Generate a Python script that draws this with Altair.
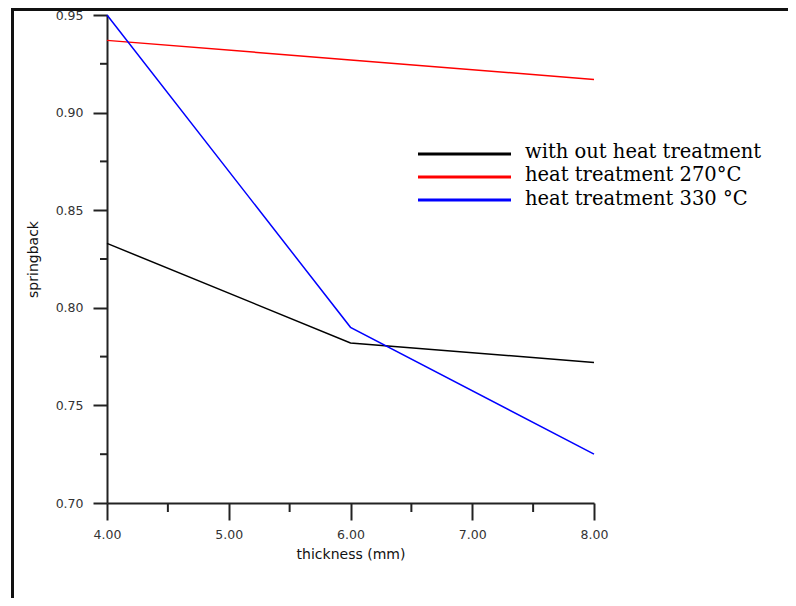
import altair as alt
import pandas as pd

# ---- data ----
thickness = [4.0, 6.0, 8.0]
series_names = ["with out heat treatment", "heat treatment 270°C", "heat treatment 330 °C"]
without_ht = [0.833, 0.782, 0.772]
ht_270 = [0.937, 0.927, 0.917]
ht_330 = [0.950, 0.790, 0.725]
series_colors = ["#000000", "#ff0000", "#0000ff"]

x_ticks = [4, 5, 6, 7, 8]
y_ticks = [0.70, 0.75, 0.80, 0.85, 0.90, 0.95]
x_minor = [4.5, 5.5, 6.5, 7.5]
y_minor = [0.725, 0.775, 0.825, 0.875, 0.925]

# layout (pixels, relative to plot area)
legend_line_y = [139, 162, 185]
legend_text_y = [137, 160, 184]

rows = []
for name, vals in zip(series_names, [without_ht, ht_270, ht_330]):
    for t, v in zip(thickness, vals):
        rows.append({"thickness": t, "springback": v, "series": name})
df = pd.DataFrame(rows)

AX = "#222222"
xscale = alt.Scale(domain=[4, 8], nice=False, zero=False)
yscale = alt.Scale(domain=[0.70, 0.95], nice=False, zero=False)

x_axis = alt.Axis(values=x_ticks, format=".2f", title="thickness (mm)",
                  grid=False, tickSize=17, tickWidth=2, tickColor=AX,
                  domainColor=AX, domainWidth=2, labelPadding=8, labelFlush=False,
                  labelFont="DejaVu Sans", labelFontSize=12.5, labelColor="#333",
                  titleFont="DejaVu Sans", titleFontSize=14, titleFontWeight="normal",
                  titleColor="#111", titleY=44, titleBaseline="top")
y_axis = alt.Axis(values=y_ticks, format=".2f", title="springback",
                  grid=False, tickSize=14, tickWidth=2, tickColor=AX,
                  domainColor=AX, domainWidth=2, labelPadding=10, labelFlush=False,
                  labelFont="DejaVu Sans", labelFontSize=12.5, labelColor="#333",
                  titleFont="DejaVu Sans", titleFontSize=14, titleFontWeight="normal",
                  titleColor="#111", titleX=-67, titleY=244, titleAngle=270,
                  titleBaseline="bottom", titleAlign="center")

lines = alt.Chart(df).mark_line(strokeWidth=1.5).encode(
    x=alt.X("thickness:Q", scale=xscale, axis=x_axis),
    y=alt.Y("springback:Q", scale=yscale, axis=y_axis),
    color=alt.Color("series:N", scale=alt.Scale(domain=series_names, range=series_colors),
                    legend=None),
)

xminor = alt.Chart(pd.DataFrame({"thickness": x_minor})).mark_rule(
    color=AX, strokeWidth=2).encode(
    x=alt.X("thickness:Q", scale=xscale, axis=x_axis),
    y=alt.value(488), y2=alt.value(497))

yminor = alt.Chart(pd.DataFrame({"springback": y_minor})).mark_rule(
    color=AX, strokeWidth=2).encode(
    y=alt.Y("springback:Q", scale=yscale, axis=y_axis),
    x=alt.value(-7), x2=alt.value(0))

frame_src = pd.DataFrame({"k": [0]})
frame_left = alt.Chart(frame_src).mark_rule(color="#111", strokeWidth=3).encode(
    x=alt.value(-94.5), y=alt.value(-7), y2=alt.value(600))
frame_top = alt.Chart(frame_src).mark_rule(color="#111", strokeWidth=3).encode(
    x=alt.value(-96), x2=alt.value(700), y=alt.value(-5.5))

legend_layers = []
for i, (name, col) in enumerate(zip(series_names, series_colors)):
    src = pd.DataFrame({"series": [name]})
    legend_layers.append(
        alt.Chart(src).mark_rule(color=col, strokeWidth=3).encode(
            x=alt.value(311), x2=alt.value(404), y=alt.value(legend_line_y[i])))
    legend_layers.append(
        alt.Chart(src).mark_text(align="left", baseline="middle", font="DejaVu Serif",
                                 fontSize=19.5, color="#000").encode(
            x=alt.value(418), y=alt.value(legend_text_y[i]), text="series:N"))

chart = alt.layer(lines, xminor, yminor, frame_left, frame_top, *legend_layers).properties(
    width=487, height=488,
    autosize=alt.AutoSizeParams(type="none"),
    padding={"left": 99, "top": 7, "right": 194, "bottom": 95},
    background="white",
).configure_view(stroke=None)

chart.save("out.html", embed_options={"renderer": "svg", "actions": False})
